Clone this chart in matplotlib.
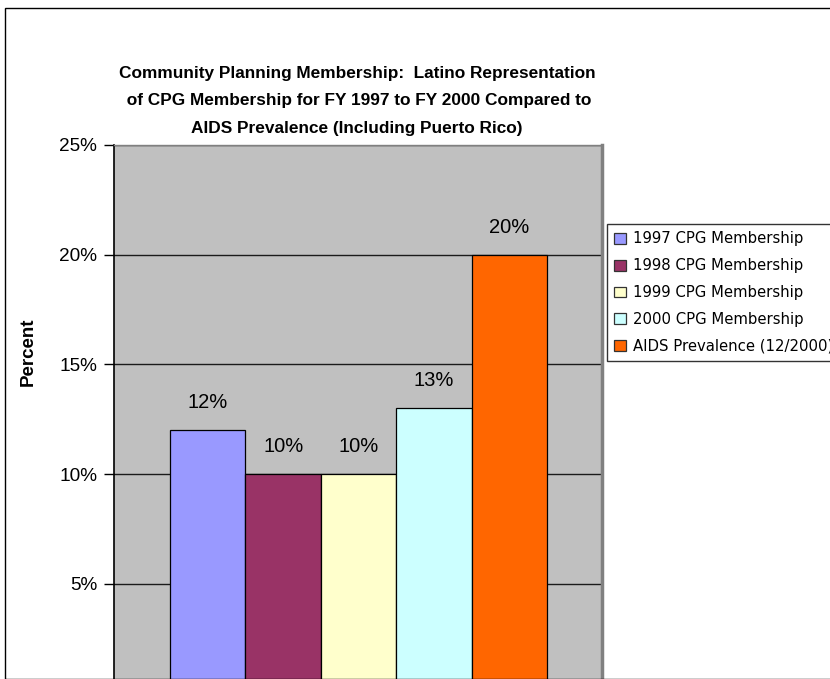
import matplotlib.pyplot as plt
from matplotlib.patches import Rectangle

# data
series = ['1997 CPG Membership', '1998 CPG Membership', '1999 CPG Membership',
          '2000 CPG Membership', 'AIDS Prevalence (12/2000)']
values = [12, 10, 10, 13, 20]
colors = ['#9999FF', '#993366', '#FFFFCC', '#CCFFFF', '#FF6600']
yticks = [5, 10, 15, 20, 25]

plt.rcParams['font.family'] = ['Liberation Sans', 'DejaVu Sans']

fig = plt.figure(figsize=(8.3, 6.79), dpi=100)
W, H = 830, 679

# outer chart border
fig.patches.append(Rectangle((5 / W, 0), 1.2, (H - 8) / H, transform=fig.transFigure,
                             fill=False, edgecolor='black', lw=1.0))

ax = fig.add_axes([114 / W, 0, (602 - 114) / W, (H - 145) / H])
ax.set_facecolor('#C0C0C0')

bw = 0.1546
start = -0.5 + (170 - 114) / (602 - 114)
for i, (lab, v, c) in enumerate(zip(series, values, colors)):
    x = start + i * bw
    ax.bar(x, v, width=bw, align='edge', color=c, edgecolor='black', lw=0.9,
           label=lab, zorder=3)
    ax.text(x + bw / 2, v + 1.25, f'{v}%', ha='center', va='center', fontsize=14.5,
            zorder=4)

ax.set_xlim(-0.5, 0.5)
ax.set_ylim(0.66, 25)
ax.set_yticks(yticks)
ax.set_yticklabels([f'{t}%' for t in yticks], fontsize=13.7)
ax.set_xticks([])
ax.yaxis.grid(True, color='#1a1a1a', lw=1.0, zorder=1)
ax.tick_params(axis='y', direction='out', length=7, width=1, pad=5)
ax.spines['left'].set_color('black')
ax.spines['left'].set_linewidth(1.2)
ax.spines['right'].set_color('#808080')
ax.spines['right'].set_linewidth(2.5)
ax.spines['top'].set_color('#808080')
ax.spines['top'].set_linewidth(1.0)
ax.spines['bottom'].set_visible(False)
ax.set_ylabel('Percent', fontsize=13.5, fontweight='bold')
ax.yaxis.set_label_coords(-(114 - 37) / (602 - 114), (H - 352) / (H - 145))

fig.text(357 / W, 1 - 101 / H,
         'Community Planning Membership:  Latino Representation\n'
         ' of CPG Membership for FY 1997 to FY 2000 Compared to\n'
         'AIDS Prevalence (Including Puerto Rico)',
         ha='center', va='center', fontsize=12.4, fontweight='bold',
         linespacing=2.05)

handles, labels = ax.get_legend_handles_labels()
leg = fig.legend(handles, labels, loc='upper left',
                 bbox_to_anchor=(607 / W, 1 - 224 / H), frameon=True,
                 fancybox=False, shadow=False,
                 prop={'family': 'DejaVu Sans', 'size': 10.7},
                 handlelength=0.75, handleheight=0.75, handletextpad=0.5,
                 labelspacing=0.8, borderpad=0.5, borderaxespad=0)
leg.get_frame().set_edgecolor('black')
leg.get_frame().set_linewidth(1.0)
for p in leg.get_patches():
    p.set_linewidth(0.9)
    p.set_edgecolor('#333333')

fig.savefig('out.png', dpi=100)
